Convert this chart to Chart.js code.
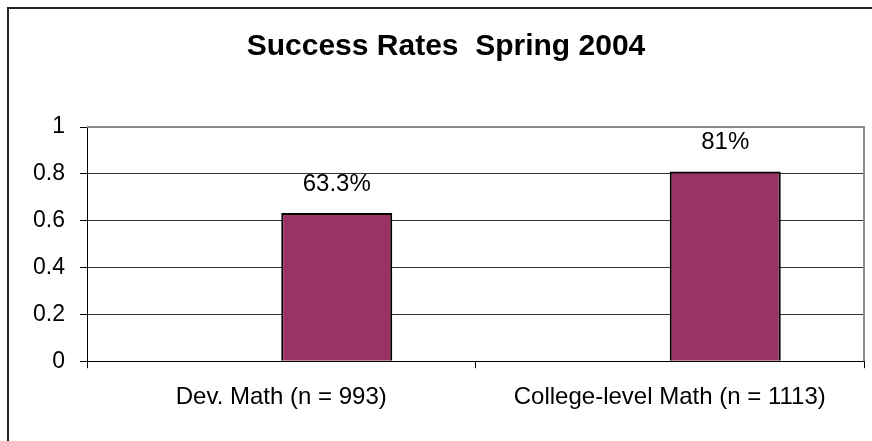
<!DOCTYPE html>
<html>
<head>
<meta charset="utf-8">
<script src="https://cdn.jsdelivr.net/npm/chart.js@4/dist/chart.umd.min.js"></script>
<style>
  html, body { margin: 0; padding: 0; background: #fff; }
  canvas { display: block; }
</style>
</head>
<body>
<canvas id="myChart" width="872" height="441"></canvas>
<script>
// Categories along the x-axis
var groups = ["Dev. Math (n = 993)", "College-level Math (n = 1113)"];
// Success rate per group (the empty series keeps the Excel-style offset)
var blank = [null, null];
var rates = [0.633, 0.81];
// Value axis ticks
var yTicks = [0, 0.2, 0.4, 0.6, 0.8, 1];

var FONT = "'Liberation Sans', Arial, sans-serif";

// Outer chart frame plus the grey top/right edges of the plot area
var frame = {
  id: 'frame',
  beforeDraw: function(chart) {
    var c = chart.ctx;
    c.save();
    c.fillStyle = '#fff';
    c.fillRect(0, 0, chart.width, chart.height);
    c.strokeStyle = '#222';
    c.lineWidth = 2;
    c.strokeRect(8, 8, chart.width + 10, chart.height + 10);
    c.restore();
  },
  beforeDatasetsDraw: function(chart) {
    var a = chart.chartArea, c = chart.ctx;
    c.save();
    c.strokeStyle = '#8c8c8c';
    c.lineWidth = 2;
    c.beginPath();
    c.moveTo(a.left, a.top);
    c.lineTo(a.right, a.top);
    c.lineTo(a.right, a.bottom);
    c.stroke();
    c.restore();
  }
};

// Percent labels above each bar
var valueLabels = {
  id: 'valueLabels',
  afterDatasetsDraw: function(chart) {
    var c = chart.ctx;
    var meta = chart.getDatasetMeta(1);
    c.save();
    c.font = '24px ' + FONT;
    c.fillStyle = '#000';
    c.textAlign = 'center';
    c.textBaseline = 'middle';
    meta.data.forEach(function(bar, i) {
      var v = rates[i];
      c.fillText(Math.round(v * 1000) / 10 + '%', bar.x, bar.y - 29);
    });
    c.restore();
  }
};

var ctx = document.getElementById("myChart");
var myChart = new Chart(ctx, {
  type: 'bar',
  data: {
    labels: groups,
    datasets: [
      { data: blank, backgroundColor: '#fff' },
      {
        data: rates,
        backgroundColor: '#993366',
        borderColor: '#000',
        borderWidth: 2
      }
    ]
  },
  options: {
    responsive: false,
    animation: false,
    categoryPercentage: 2 / 3.5,
    barPercentage: 1,
    layout: { padding: { left: 28, right: 8, top: 0, bottom: 14 } },
    plugins: {
      legend: { display: false },
      tooltip: { enabled: false },
      title: {
        display: true,
        text: 'Success Rates  Spring 2004',
        color: '#000',
        font: { family: FONT, size: 30, weight: 'bold' },
        padding: { top: 29, bottom: 62 }
      }
    },
    scales: {
      x: {
        grid: {
          offset: true,
          drawOnChartArea: false,
          tickLength: 7,
          tickColor: '#000'
        },
        border: { color: '#000', width: 1 },
        ticks: {
          color: '#000',
          padding: 15,
          font: { family: FONT, size: 24 }
        }
      },
      y: {
        min: 0,
        max: 1,
        afterFit: function(scale) { scale.width = 59; },
        afterBuildTicks: function(scale) {
          scale.ticks = yTicks.map(function(v) { return { value: v }; });
        },
        grid: {
          color: '#333',
          tickLength: 7,
          tickColor: '#000'
        },
        border: { color: '#000', width: 1 },
        ticks: {
          color: '#000',
          padding: 15,
          font: { family: FONT, size: 23 },
          callback: function(v) { return String(v); }
        }
      }
    }
  },
  plugins: [frame, valueLabels]
});
</script>
</body>
</html>
